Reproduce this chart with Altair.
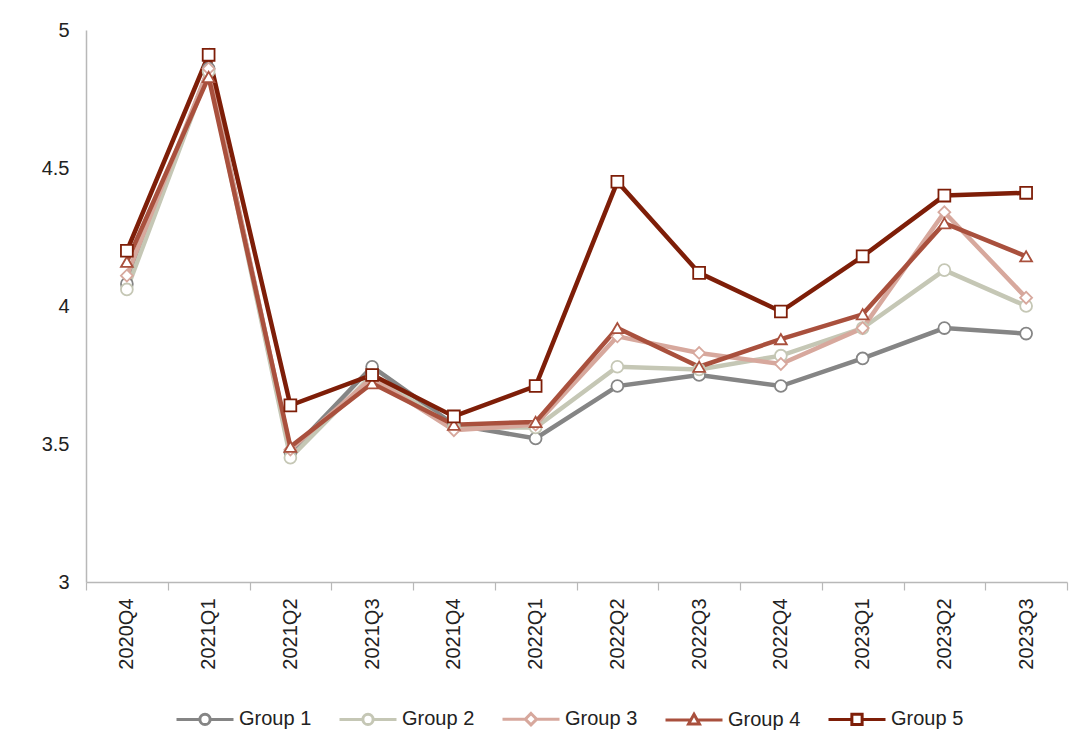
import altair as alt
import pandas as pd

quarters = ["2020Q4", "2021Q1", "2021Q2", "2021Q3", "2021Q4", "2022Q1",
            "2022Q2", "2022Q3", "2022Q4", "2023Q1", "2023Q2", "2023Q3"]
groups = ["Group 1", "Group 2", "Group 3", "Group 4", "Group 5"]

group1 = [4.08, 4.86, 3.47, 3.78, 3.57, 3.52, 3.71, 3.75, 3.71, 3.81, 3.92, 3.90]
group2 = [4.06, 4.85, 3.45, 3.75, 3.56, 3.56, 3.78, 3.77, 3.82, 3.92, 4.13, 4.00]
group3 = [4.11, 4.86, 3.48, 3.74, 3.55, 3.57, 3.89, 3.83, 3.79, 3.92, 4.34, 4.03]
group4 = [4.16, 4.83, 3.49, 3.72, 3.57, 3.58, 3.92, 3.78, 3.88, 3.97, 4.30, 4.18]
group5 = [4.20, 4.91, 3.64, 3.75, 3.60, 3.71, 4.45, 4.12, 3.98, 4.18, 4.40, 4.41]

colors = ["#858585", "#C5C7B5", "#D7A89D", "#A9503D", "#7E1E08"]
shapes = ["circle", "circle", "diamond", "triangle-up", "square"]
legend_shapes = [
    "M-1,0H-0.18M0.18,0H1M0.18,0A0.18,0.18,0,1,1,-0.18,0A0.18,0.18,0,1,1,0.18,0Z",
    "M-1,0H-0.18M0.18,0H1M0.18,0A0.18,0.18,0,1,1,-0.18,0A0.18,0.18,0,1,1,0.18,0Z",
    "M-1,0H-0.2M0.2,0H1M0,-0.2L0.2,0L0,0.2L-0.2,0Z",
    "M-1,0H-0.11M0.11,0H1M0,-0.2L0.19,0.14L-0.19,0.14Z",
    "M-1,0H-0.18M0.18,0H1M-0.18,-0.18H0.18V0.18H-0.18Z",
]
sizes = [140, 140, 130, 150, 215]

series = [group1, group2, group3, group4, group5]
rows = []
for g, vals in zip(groups, series):
    for q, v in zip(quarters, vals):
        rows.append({"Quarter": q, "Group": g, "Value": v})
df = pd.DataFrame(rows)

FONT = "Liberation Sans"

x_enc = alt.X("Quarter:N", sort=quarters,
              scale=alt.Scale(type="band", paddingInner=0, paddingOuter=0),
              axis=alt.Axis(title=None, labelAngle=-90, tickBand="extent",
                            tickSize=8, labelPadding=8, labelFontSize=20,
                            labelFont=FONT, labelColor="#222222",
                            domainColor="#B8B8B8", tickColor="#B8B8B8",
                            domainWidth=1.5, tickWidth=1.2))
y_enc = alt.Y("Value:Q",
              scale=alt.Scale(domain=[3, 5], nice=False, zero=False),
              axis=alt.Axis(title=None, values=[3, 3.5, 4, 4.5, 5], format="~g",
                            grid=False, ticks=False, labelPadding=17,
                            labelFontSize=20, labelFont=FONT, labelColor="#222222",
                            domainColor="#B8B8B8", domainWidth=1.5))

base = alt.Chart(df)

lines = base.mark_line(strokeWidth=4.5).encode(
    x=x_enc, y=y_enc,
    color=alt.Color("Group:N", scale=alt.Scale(domain=groups, range=colors), legend=None),
)

points = base.mark_point(fill="white", strokeWidth=1.8, opacity=1).encode(
    x=x_enc, y=y_enc,
    color=alt.Color("Group:N", scale=alt.Scale(domain=groups, range=colors), legend=None),
    shape=alt.Shape("Group:N", scale=alt.Scale(domain=groups, range=shapes), legend=None),
    size=alt.Size("Group:N", scale=alt.Scale(domain=groups, range=sizes), legend=None),
)

legend_cfg = alt.Legend(title=None, orient="none", direction="horizontal",
                        legendX=89, legendY=659, columns=5,
                        symbolSize=3249, symbolStrokeWidth=3,
                        symbolFillColor="white", symbolOpacity=1,
                        labelFontSize=20, labelFont=FONT, labelColor="#222222",
                        labelOffset=4, columnPadding=21)

legend_layer = base.mark_point(fill="white", strokeWidth=3, opacity=1).encode(
    x=x_enc, y=y_enc,
    color=alt.Color("Group:N", scale=alt.Scale(domain=groups, range=colors), legend=legend_cfg),
    shape=alt.Shape("Group:N", scale=alt.Scale(domain=groups, range=legend_shapes),
                    legend=legend_cfg),
).transform_filter("false")

chart = alt.layer(lines, points, legend_layer).resolve_scale(
    color="independent", shape="independent", size="independent"
).properties(
    width=981, height=552,
    padding={"left": 78, "top": 22, "right": 5, "bottom": 150},
    autosize="none",
).configure(background="white").configure_view(stroke=None)

chart.save("out.html", embed_options={"renderer": "svg", "actions": False})
